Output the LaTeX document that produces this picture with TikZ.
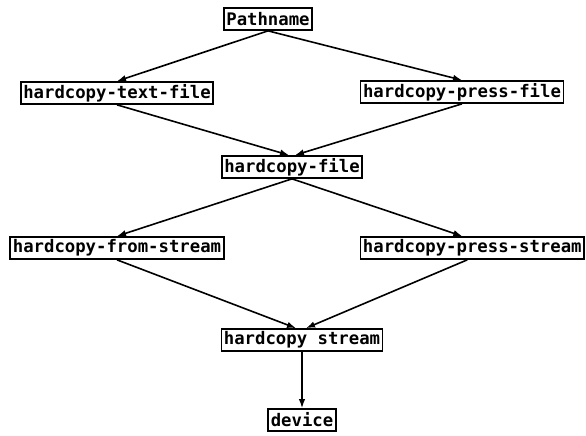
\documentclass[tikz,border=0pt]{standalone}
\usepackage{fontspec}
\setmonofont{DejaVu Sans Mono}
\usetikzlibrary{arrows.meta}
\tikzset{
  fnbox/.style={draw,line width=1.7pt,inner xsep=2.5pt,inner ysep=1pt,minimum height=22pt,
    font=\fontsize{17.3}{19}\selectfont\ttfamily\bfseries},
  calls/.style={line width=1.6pt,-{Latex[length=9pt,width=6.5pt]}}
}
\begin{document}
\begin{tikzpicture}[x=1pt,y=-1pt]
	\clip (0,0) rectangle (586,436); % Clips the picture...
		\node[fnbox] (PathName)       at (268,19)  {Pathname};
		\node[fnbox] (TextFile)       at (117,93)  {hardcopy-text-file};
		\node[fnbox] (PressFile)      at (462,92)  {hardcopy-press-file};
		\node[fnbox] (HardcopyFile)   at (292,167) {hardcopy-file};
		\node[fnbox] (FromStream)     at (117,248) {hardcopy-from-stream};
		\node[fnbox, anchor=east] (PressStream) at (585,248) {hardcopy-press-stream};
		\node[fnbox] (HardcopyStream) at (302,340) {hardcopy stream};
		\node[fnbox] (Device)         at (302,420) {device};

		\draw [calls] (PathName.south) -- (TextFile.north);
		\draw [calls] (PathName.south) -- (PressFile.north);
		\draw [calls] (TextFile.south) -- ([xshift=-3pt]HardcopyFile.north);
		\draw [calls] (PressFile.south) -- ([xshift=3pt]HardcopyFile.north);
		\draw [calls] (HardcopyFile.south) -- (FromStream.north);
		\draw [calls] (HardcopyFile.south) -- ([xshift=-10pt]PressStream.north);
		\draw [calls] (FromStream.south) -- ([xshift=-6pt]HardcopyStream.north);
		\draw [calls] ([xshift=-5pt]PressStream.south) -- ([xshift=4pt]HardcopyStream.north);
		\draw [calls] (HardcopyStream.south) -- (Device.north);
	\end{tikzpicture}
\end{document}
